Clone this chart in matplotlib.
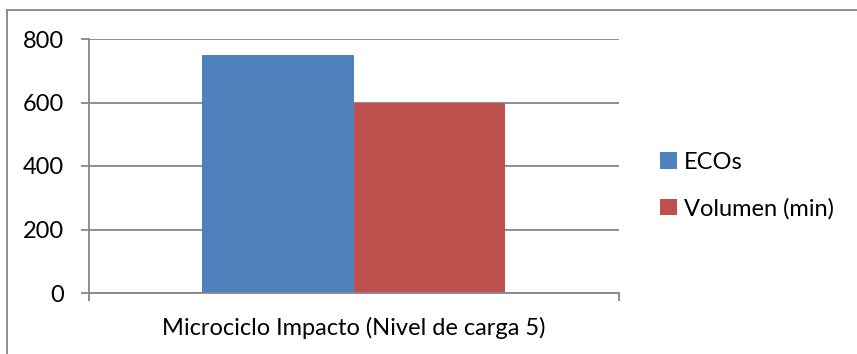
import numpy as np
import matplotlib.pyplot as plt
from matplotlib.lines import Line2D

plt.rcParams['font.family'] = ['Lato', 'DejaVu Sans']

# Chart values
categoria = 'Microciclo Impacto (Nivel de carga 5)'
series = ['ECOs', 'Volumen (min)']
valores = [750, 600]
colores = ['#4F81BD', '#C0504D']
y_ticks = [0, 200, 400, 600, 800]

W, H = 857, 354
fig = plt.figure(figsize=(W / 100, H / 100), dpi=100)
ax = fig.add_axes([89 / W, 1 - 293 / H, 530 / W, 254 / H])

grid_col = '#868686'
fs = 17
bar_w = 151.5 / 530
offsets = [-bar_w / 2, bar_w / 2]
handles = []
for name, val, col, off in zip(series, valores, colores, offsets):
    h = ax.bar(off, val, width=bar_w, color=col, label=name, zorder=3)
    handles.append(h)

ax.set_xlim(-0.5, 0.5)
ax.set_ylim(0, 800)
ax.set_yticks(y_ticks)
ax.yaxis.grid(True, color=grid_col, linewidth=1.3, zorder=0)
ax.tick_params(axis='y', length=6, width=1.3, color=grid_col, labelsize=fs, pad=12)

# Category boundaries carry the tick marks, the label sits in the middle
ax.set_xticks([-0.5, 0.5])
ax.set_xticklabels(['', ''])
ax.set_xticks([0], minor=True)
ax.set_xticklabels([categoria], minor=True, fontsize=fs)
ax.tick_params(axis='x', which='major', length=6, width=1.3, color=grid_col)
ax.tick_params(axis='x', which='minor', length=0, pad=17)

for s in ['top', 'right']:
    ax.spines[s].set_visible(False)
for s in ['left', 'bottom']:
    ax.spines[s].set_color(grid_col)
    ax.spines[s].set_linewidth(1.3)
    ax.spines[s].set_zorder(4)

fig.legend(handles=handles, labels=series, loc='upper left',
           bbox_to_anchor=(660 / W, 1 - 152 / H), frameon=False, fontsize=fs,
           handlelength=0.7, handleheight=0.7, handletextpad=0.3,
           labelspacing=1.05, borderaxespad=0, borderpad=0)

# Outer chart frame
fig.add_artist(Line2D([7 / W, 7 / W], [0, 1 - 10 / H], color=grid_col, linewidth=1.3))
fig.add_artist(Line2D([7 / W, 1], [1 - 10 / H, 1 - 10 / H], color=grid_col, linewidth=1.3))

fig.savefig('out.png', dpi=100)
